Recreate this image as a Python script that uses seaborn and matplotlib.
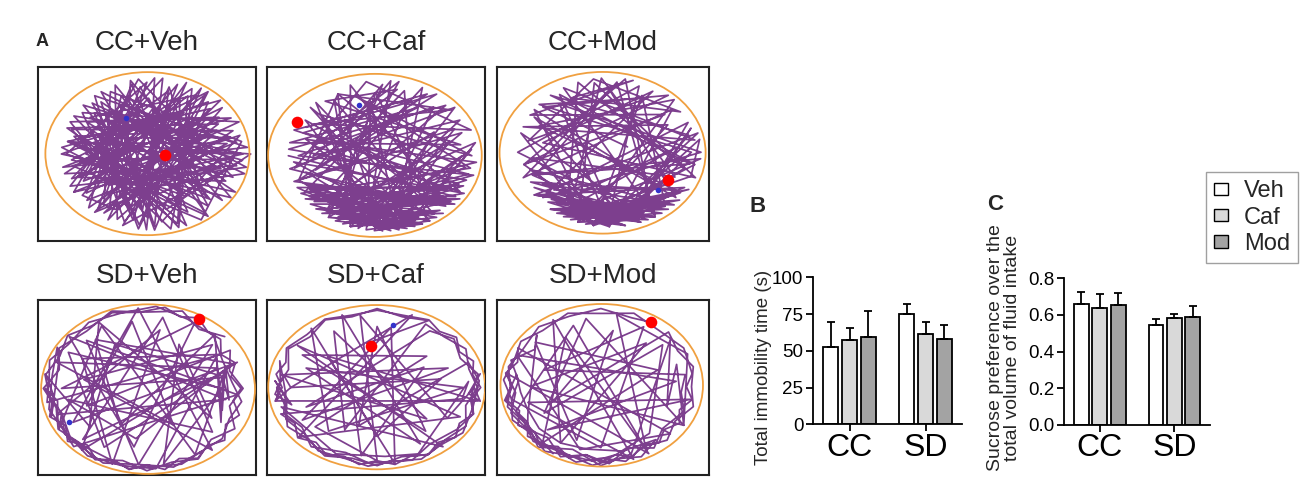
import numpy as np
import pandas as pd
import seaborn as sns
import matplotlib.pyplot as plt
from matplotlib.patches import Ellipse, Patch

# ---- bar chart data (B, C) ----
groups = ["CC", "SD"]
treatments = ["Veh", "Caf", "Mod"]

immobility_veh = [52.8, 75.1]
immobility_caf = [57.1, 61.7]
immobility_mod = [59.4, 58.3]
immobility_err_veh = [16.6, 7.0]
immobility_err_caf = [8.2, 7.7]
immobility_err_mod = [17.7, 9.0]

sucrose_veh = [0.658, 0.544]
sucrose_caf = [0.636, 0.582]
sucrose_mod = [0.655, 0.587]
sucrose_err_veh = [0.066, 0.034]
sucrose_err_caf = [0.077, 0.022]
sucrose_err_mod = [0.063, 0.064]

# ---- open field tracks (A): vertices as (angle deg, fraction of arena radius) ----
track_titles = ["CC+Veh", "CC+Caf", "CC+Mod", "SD+Veh", "SD+Caf", "SD+Mod"]

track_cc_veh = [(200,0.1),(150,0.8),(30,0.9),(190,0.85),(300,0.95),(10,0.9),(120,0.9),(230,0.8),(60,0.95),(260,0.9),
    (160,0.6),(340,0.85),(100,0.95),(210,0.95),(20,0.5),(140,0.95),(280,0.7),(0,0.98),(170,0.9),(320,0.6),(80,0.85),
    (240,0.95),(40,0.7),(190,0.5),(290,0.95),(110,0.6),(350,0.95),(220,0.6),(70,0.95),(250,0.6),(130,0.85),(330,0.95),
    (180,0.95),(50,0.85),(270,0.95),(150,0.4),(15,0.8),(200,0.9),(95,0.7),(310,0.85),(165,0.75),(45,0.95),(235,0.9),
    (5,0.6),(125,0.95),(275,0.5),(355,0.8),(185,0.7),(75,0.6),(255,0.85),(145,0.9),(25,0.95),(215,0.85),(105,0.9),
    (295,0.8),(175,0.95),(60,0.6),(245,0.7),(135,0.7),(345,0.7),(205,0.95),(90,0.95),(265,0.8),(155,0.95),(35,0.8),
    (225,0.95),(115,0.8),(305,0.95),(195,0.6),(65,0.8),(285,0.9),(170,0.8),(10,0.75),(230,0.9),(100,0.85),(315,0.75),
    (140,0.6),(355,0.9),(250,0.95),(55,0.9),(200,0.75),(85,0.5),(260,0.7),(160,0.9),(20,0.85),(240,0.8),
    (215,0.9),(75,0.9),(250,0.75),(130,0.95),(5,0.95),(190,0.95),(50,0.6),(280,0.95),(165,0.85),(25,0.7),(205,0.8),
    (110,0.75),(320,0.9),(145,0.8),(60,0.85),(230,0.95),(0,0.85),(175,0.6),(85,0.95),(265,0.95),(120,0.7),(335,0.8),
    (200,0.85),(40,0.9),(250,0.9),(155,0.7),(300,0.6),(180,0.9),(95,0.9),(225,0.7),(345,0.95),(135,0.9),(275,0.85),
    (15,0.9),(210,0.7),(70,0.75),(290,0.7),(160,0.95),(30,0.75),(240,0.6),(105,0.95),(325,0.95),(185,0.85),(55,0.95),
    (260,0.95),(140,0.8),(10,0.85),(220,0.9),(90,0.6),(305,0.9),(170,0.9),(45,0.8),(235,0.8),(125,0.6),(350,0.85),
    (195,0.95),(65,0.9),(285,0.95),(150,0.95),(20,0.6),(245,0.9),(115,0.95),(315,0.8),(180,0.7),(80,0.8),(270,0.9),
    (135,0.5),(0,0.9),(210,0.95)]

track_cc_caf = [(155,0.85),(60,0.9),(200,0.9),(20,0.85),(250,0.95),(120,0.9),(330,0.9),(170,0.7),(80,0.95),(230,0.85),
    (10,0.95),(290,0.9),(140,0.95),(310,0.8),(190,0.95),(40,0.95),(260,0.85),(100,0.7),(280,0.95),(220,0.95),(320,0.95),
    (210,0.75),(300,0.7),(240,0.9),(350,0.85),(130,0.6),(270,0.9),(30,0.6),(225,0.8),(335,0.85),(160,0.95),(70,0.75),
    (255,0.95),(0,0.8),(285,0.8),(205,0.85),(315,0.9),(110,0.95),(245,0.75),(345,0.95),(180,0.85),(50,0.8),(265,0.95),
    (295,0.95),(215,0.9),(325,0.75),(150,0.5),(90,0.9),(235,0.95),(15,0.7),(275,0.85),(195,0.8),(305,0.9),(125,0.85),
    (250,0.8),(340,0.9),(175,0.95),(45,0.9),(230,0.7),(290,0.85),(5,0.9),(260,0.9),(135,0.95),(300,0.95),(220,0.8),
    (65,0.95),(280,0.75),(185,0.9),(330,0.95),(240,0.85),(95,0.8),(310,0.7),(200,0.95),(25,0.8),(270,0.8),(150,0.9),
    (320,0.85),(210,0.9),(75,0.85),(290,0.9),(165,0.8),(355,0.95),
    (220,0.9),(320,0.9),(230,0.95),(310,0.95),(240,0.9),(300,0.85),(250,0.95),(290,0.9),(260,0.85),(280,0.9),
    (235,0.85),(325,0.95),(215,0.95),(305,0.85),(245,0.95),(335,0.9),(210,0.85),(270,0.95),(200,0.9),(120,0.9),
    (40,0.9),(150,0.8),(20,0.95),(100,0.95),(190,0.9),(60,0.7),(170,0.95),(10,0.8),(130,0.9),(80,0.85),(180,0.7),
    (30,0.9),(250,0.9),(315,0.85),(225,0.95),(295,0.95),(255,0.85),(285,0.95),(240,0.95),(330,0.8),(205,0.95),
    (275,0.95),(230,0.9),(345,0.9),(160,0.85),(55,0.95),(195,0.7),(85,0.95),(260,0.95),(300,0.95),(220,0.85),
    (320,0.8),(245,0.85),(310,0.9),(265,0.9),(140,0.8),(0,0.9),(110,0.8),(350,0.9),(210,0.95),(290,0.95),(235,0.95),
    (280,0.85),(250,0.95),(305,0.95),(215,0.85),(325,0.9),(180,0.95)]

track_cc_mod = [(20,0.2),(140,0.9),(50,0.95),(190,0.9),(80,0.95),(300,0.9),(120,0.95),(10,0.9),(160,0.95),(30,0.7),
    (250,0.95),(100,0.9),(340,0.95),(170,0.7),(60,0.9),(220,0.9),(0,0.95),(130,0.8),(270,0.95),(40,0.85),(200,0.95),
    (90,0.8),(320,0.9),(150,0.9),(280,0.85),(230,0.95),(290,0.95),(210,0.8),(310,0.85),(240,0.9),(330,0.95),(260,0.8),
    (300,0.75),(250,0.85),(280,0.95),(225,0.9),(315,0.95),(195,0.85),(265,0.9),(345,0.8),(110,0.95),(235,0.75),
    (295,0.9),(180,0.95),(70,0.9),(270,0.8),(15,0.95),(215,0.95),(305,0.95),(245,0.95),(285,0.75),(205,0.9),(325,0.85),
    (155,0.8),(45,0.95),(255,0.9),(350,0.9),(125,0.9),(275,0.9),(185,0.8),(335,0.75),(95,0.95),(240,0.8),(5,0.7),
    (230,0.85),(310,0.9),(65,0.8),(260,0.95),(165,0.95),(290,0.8),(25,0.9),(220,0.75),(320,0.7),(145,0.95),(250,0.75),
    (355,0.95),(200,0.8),(85,0.9),(300,0.95),
    (250,0.9),(320,0.95),(230,0.95),(300,0.95),(240,0.85),(310,0.9),(255,0.95),(290,0.9),(220,0.85),(280,0.95),
    (260,0.9),(330,0.9),(215,0.95),(295,0.85),(245,0.9),(340,0.9),(10,0.95),(330,0.6),(20,0.9),(300,0.7),(0,0.85),
    (140,0.95),(60,0.8),(170,0.85),(100,0.95),(35,0.9),(120,0.8),(75,0.95),(150,0.95),(40,0.75),(190,0.9),(270,0.95),
    (235,0.9),(305,0.85),(225,0.85),(285,0.9),(250,0.95),(315,0.8),(240,0.95),(275,0.85),(210,0.9),(295,0.95),
    (265,0.85),(325,0.9),(255,0.8),(310,0.95),(230,0.85),(290,0.95),(200,0.85),(350,0.85),(130,0.95),(15,0.85),
    (280,0.8),(245,0.8),(320,0.85),(260,0.95),(300,0.8),(235,0.95),(270,0.85)]

track_sd_veh = [(40,0.95),(55,0.85),(70,0.97),(90,0.9),(110,0.97),(130,0.88),(150,0.95),(165,0.85),(180,0.97),(195,0.88),
    (210,0.96),(225,0.9),(240,0.97),(255,0.88),(270,0.97),(285,0.9),(300,0.96),(315,0.85),(330,0.95),(345,0.8),(0,0.9),
    (15,0.8),(30,0.9),(200,0.6),(100,0.8),(300,0.5),(160,0.9),(20,0.7),(230,0.95),(120,0.6),(10,0.75),(180,0.8),(60,0.9),
    (260,0.7),(140,0.95),(350,0.75),(200,0.9),(80,0.7),(250,0.95),(150,0.7),(30,0.8),(190,0.95),(175,0.92),(160,0.97),
    (145,0.9),(125,0.95),(105,0.92),(85,0.97),(65,0.9),(45,0.88),(25,0.78),(5,0.8),(350,0.9),(335,0.85),(320,0.92),
    (305,0.9),(290,0.95),(275,0.92),(260,0.96),(245,0.9),(230,0.9),(215,0.94),(200,0.85),(185,0.92),(170,0.97),
    (220,0.7),(120,0.9),(330,0.7),(60,0.6),(280,0.9),(0,0.7),(150,0.85),(240,0.8),(20,0.9),(210,0.8),(95,0.95),
    (310,0.95),(170,0.6),(40,0.8),(265,0.9),(135,0.8),(355,0.85),(225,0.97),(205,0.92),(190,0.85),
    (180,0.95),(190,0.9),(200,0.97),(210,0.88),(220,0.97),(230,0.87),(240,0.96),(250,0.9),(260,0.97),(270,0.9),
    (280,0.97),(290,0.88),(300,0.95),(310,0.88),(320,0.95),(330,0.85),(340,0.92),(350,0.82),(0,0.88),(10,0.8),
    (20,0.88),(30,0.8),(40,0.9),(50,0.88),(60,0.96),(70,0.9),(80,0.97),(95,0.9),(110,0.95),(125,0.9),(140,0.97),
    (155,0.9),(170,0.96),(185,0.88),(200,0.95),(160,0.88),(150,0.97),(170,0.9),(195,0.95),(215,0.92),(235,0.97),
    (255,0.94),(275,0.95),(30,0.75),(340,0.75),(20,0.78),(350,0.78),(10,0.72),(330,0.8),(45,0.9),(240,0.5),(130,0.75),
    (20,0.85),(260,0.6),(190,0.75),(320,0.8),(80,0.85),(225,0.85),(15,0.75),(300,0.9),(120,0.85),(210,0.95),(200,0.85),
    (220,0.93),(245,0.97),(265,0.9),(285,0.96),(305,0.9)]

track_sd_caf = [(100,0.55),(60,0.95),(75,0.9),(90,0.97),(105,0.9),(120,0.96),(135,0.88),(150,0.95),(165,0.85),(180,0.93),
    (195,0.88),(210,0.96),(225,0.9),(240,0.97),(255,0.9),(270,0.96),(285,0.88),(300,0.95),(315,0.9),(330,0.95),
    (345,0.85),(0,0.93),(15,0.88),(30,0.95),(45,0.88),(60,0.9),(240,0.6),(120,0.8),(320,0.6),(170,0.9),(20,0.7),
    (210,0.8),(80,0.75),(280,0.95),(140,0.6),(350,0.95),(190,0.95),(175,0.9),(160,0.96),(185,0.85),(200,0.92),
    (215,0.85),(230,0.95),(250,0.85),(265,0.93),(290,0.95),(305,0.85),(325,0.9),(340,0.95),(355,0.88),(10,0.95),
    (25,0.85),(40,0.93),(55,0.85),(200,0.7),(30,0.5),(260,0.85),(110,0.95),(300,0.8),(160,0.7),(0,0.8),(230,0.7),
    (130,0.95),(270,0.6),(10,0.6),(180,0.8),(70,0.95),(220,0.95),(335,0.85),(145,0.9),(310,0.95),(195,0.92),(245,0.9),
    (275,0.85),(295,0.9),(5,0.85),(350,0.8),
    (200,0.95),(210,0.88),(220,0.96),(230,0.88),(240,0.95),(250,0.9),(260,0.96),(270,0.9),(280,0.96),(290,0.9),
    (300,0.95),(310,0.88),(320,0.95),(330,0.88),(340,0.95),(350,0.88),(0,0.96),(10,0.9),(20,0.95),(30,0.88),(40,0.96),
    (50,0.9),(60,0.96),(75,0.92),(90,0.95),(105,0.92),(120,0.97),(135,0.92),(150,0.97),(160,0.9),(170,0.95),(180,0.88),
    (190,0.96),(180,0.8),(170,0.88),(185,0.95),(195,0.82),(175,0.95),(190,0.85),(205,0.93),(220,0.88),(235,0.95),
    (250,0.92),(265,0.97),(280,0.92),(295,0.97),(310,0.92),(325,0.97),(345,0.92),(5,0.95),(20,0.9),(250,0.5),(90,0.75),
    (310,0.7),(150,0.8),(40,0.6),(220,0.75),(270,0.9),(100,0.9),(330,0.75),(0,0.9),(350,0.97),(355,0.85),(10,0.97)]

track_sd_mod = [(55,0.95),(70,0.9),(90,0.96),(110,0.92),(130,0.96),(150,0.9),(165,0.95),(180,0.9),(195,0.96),(210,0.88),
    (225,0.95),(240,0.9),(255,0.96),(270,0.88),(285,0.95),(300,0.85),(315,0.93),(330,0.85),(345,0.95),(0,0.9),(15,0.95),
    (30,0.88),(45,0.95),(200,0.5),(80,0.7),(250,0.7),(140,0.85),(20,0.6),(230,0.9),(120,0.7),(300,0.95),(170,0.95),
    (185,0.85),(200,0.95),(215,0.9),(230,0.82),(245,0.95),(260,0.85),(275,0.95),(290,0.8),(305,0.92),(320,0.8),
    (340,0.88),(355,0.8),(10,0.85),(160,0.6),(60,0.85),(270,0.75),(190,0.9),(175,0.82),(160,0.95),(145,0.8),(135,0.9),
    (205,0.8),(220,0.95),(250,0.9),(265,0.92),(280,0.85),(310,0.75),(40,0.8),(210,0.65),(100,0.85),(330,0.95),(180,0.7),
    (50,0.7),(240,0.8),(120,0.95),(290,0.95),(195,0.75),(350,0.9),(225,0.75),(5,0.75),(155,0.92),(255,0.8),(320,0.9),
    (150,0.95),(160,0.88),(170,0.96),(180,0.88),(190,0.95),(200,0.86),(210,0.95),(220,0.86),(230,0.94),(240,0.85),
    (250,0.93),(260,0.85),(270,0.93),(280,0.85),(290,0.92),(300,0.82),(310,0.9),(320,0.82),(330,0.9),(340,0.83),
    (350,0.92),(0,0.85),(10,0.92),(30,0.95),(50,0.9),(70,0.96),(90,0.9),(110,0.96),(130,0.9),(145,0.97),(160,0.92),
    (175,0.97),(190,0.9),(205,0.97),(220,0.9),(235,0.97),(250,0.9),(265,0.97),(280,0.9),(295,0.95),(310,0.85),
    (285,0.82),(260,0.78),(240,0.8),(220,0.8),(200,0.78),(185,0.8),(170,0.85),(190,0.97),(210,0.85),(230,0.97),
    (250,0.82),(270,0.97),(290,0.88),(40,0.9),(340,0.7),(20,0.8),(330,0.95),(25,0.95),(80,0.9),(300,0.9),(110,0.8),
    (200,0.9),(240,0.95)]

tracks = [track_cc_veh, track_cc_caf, track_cc_mod, track_sd_veh, track_sd_caf, track_sd_mod]

# start (red) and end (blue) points, axes fraction
start_points = [(0.583, 0.492), (0.139, 0.684), (0.805, 0.353), (0.739, 0.891), (0.479, 0.739), (0.728, 0.876)]
end_points = [(0.405, 0.707), (0.423, 0.78), (0.758, 0.291), (0.144, 0.305), (0.576, 0.857), None]

# ---- geometry / style ----
arena_rings = [(0.502, 0.502, 0.936, 0.937), (0.495, 0.492, 0.98, 0.937), (0.498, 0.507, 0.972, 0.929),
               (0.505, 0.491, 0.981, 0.969), (0.503, 0.502, 0.995, 0.939), (0.494, 0.513, 0.955, 0.929)]
track_zone = [(0.535, 0.50, 0.45, 0.46), (0.53, 0.49, 0.455, 0.455), (0.53, 0.51, 0.455, 0.45),
              (0.50, 0.495, 0.49, 0.485), (0.505, 0.50, 0.495, 0.465), (0.49, 0.505, 0.475, 0.465)]
track_axes = [[0.0292, 0.500, 0.1677, 0.361], [0.2054, 0.500, 0.1677, 0.361], [0.3823, 0.500, 0.1631, 0.361],
              [0.0292, 0.0145, 0.1677, 0.363], [0.2054, 0.0145, 0.1677, 0.363], [0.3823, 0.0145, 0.1631, 0.363]]

purple = "#7d3f8e"
orange = "#f0a040"
bar_colors = {"Veh": "#ffffff", "Caf": "#d9d9d9", "Mod": "#a3a3a3"}

sns.set_style("ticks")
plt.rcParams["font.family"] = ["Liberation Sans", "DejaVu Sans"]

fig = plt.figure(figsize=(13, 4.82), dpi=100)

for i in range(6):
    ax = fig.add_axes(track_axes[i])
    cx, cy, rx, ry = track_zone[i]
    ang = np.radians([p[0] for p in tracks[i]])
    rad = np.array([p[1] for p in tracks[i]])
    xs = cx + rx * rad * np.cos(ang)
    ys = cy + ry * rad * np.sin(ang)
    sns.lineplot(x=xs, y=ys, sort=False, estimator=None, color=purple, linewidth=1.25, ax=ax)
    ex, ey, ew, eh = arena_rings[i]
    ax.add_patch(Ellipse((ex, ey), ew, eh, fill=False, edgecolor=orange, linewidth=1.3, zorder=3))
    ax.scatter([start_points[i][0]], [start_points[i][1]], s=70, color="#ff0000", zorder=5, linewidths=0)
    if end_points[i] is not None:
        ax.scatter([end_points[i][0]], [end_points[i][1]], s=16, color="#3333cc", zorder=5, linewidths=0)
    ax.set_xlim(0, 1)
    ax.set_ylim(0, 1)
    ax.set_xticks([])
    ax.set_yticks([])
    ax.set_xlabel("")
    ax.set_ylabel("")
    for s in ax.spines.values():
        s.set_visible(True)
        s.set_linewidth(1.5)
        s.set_color("#222222")
    ax.set_title(track_titles[i], fontsize=20, pad=12)

fig.text(0.027, 1 - 42 / 482, "A", fontsize=13, fontweight="bold", va="center", ha="left")


def bar_panel(ax, vals, errs, ymax, yticks, ylabels):
    df = pd.DataFrame({
        "group": groups * 3,
        "treatment": [t for t in treatments for _ in groups],
        "value": vals[0] + vals[1] + vals[2],
    })
    sns.barplot(data=df, x="group", y="value", hue="treatment", order=groups, hue_order=treatments,
                palette=bar_colors, edgecolor="black", linewidth=1.3, width=0.74, gap=0.2,
                errorbar=None, legend=False, ax=ax)
    for cont, err in zip(ax.containers, errs):
        bx = [p.get_x() + p.get_width() / 2 for p in cont]
        bh = [p.get_height() for p in cont]
        ax.errorbar(bx, bh, yerr=[np.zeros(len(err)), err], fmt="none", ecolor="black",
                    elinewidth=1.3, capsize=3, capthick=1.3, zorder=3)
    ax.set_xlim(-0.48, 1.48)
    ax.set_ylim(0, ymax)
    ax.set_yticks(yticks)
    ax.set_yticklabels(ylabels)
    ax.set_xlabel("")
    ax.set_ylabel("")
    sns.despine(ax=ax)
    for s in ["left", "bottom"]:
        ax.spines[s].set_linewidth(1.3)
        ax.spines[s].set_color("black")
    ax.tick_params(axis="y", labelsize=13.5, width=1.3, length=5, pad=2, colors="black")
    ax.tick_params(axis="x", labelsize=23, width=1.3, length=5, pad=1, colors="black")


axB = fig.add_axes([0.6254, 0.1197, 0.1146, 0.3051])
bar_panel(axB, [immobility_veh, immobility_caf, immobility_mod],
          [immobility_err_veh, immobility_err_caf, immobility_err_mod],
          100, [0, 25, 50, 75, 100], ["0", "25", "50", "75", "100"])

axC = fig.add_axes([0.8185, 0.1183, 0.1123, 0.3044])
bar_panel(axC, [sucrose_veh, sucrose_caf, sucrose_mod],
          [sucrose_err_veh, sucrose_err_caf, sucrose_err_mod],
          0.8, [0, 0.2, 0.4, 0.6, 0.8], ["0.0", "0.2", "0.4", "0.6", "0.8"])

fig.text(763 / 1300, 1 - 367 / 482, "Total immobility time (s)", rotation=90, fontsize=13.5,
         ha="center", va="center")
fig.text(1004 / 1300, 1 - 348 / 482, "Sucrose preference over the\ntotal volume of fluid intake",
         rotation=90, fontsize=14, ha="center", va="center", multialignment="center", linespacing=1.0)

fig.text(758 / 1300, 1 - 206 / 482, "B", fontsize=16, fontweight="bold", ha="center", va="center")
fig.text(995 / 1300, 1 - 204 / 482, "C", fontsize=16, fontweight="bold", ha="center", va="center")

handles = [Patch(facecolor=bar_colors[t], edgecolor="black", linewidth=1.0) for t in treatments]
leg = fig.legend(handles, treatments, loc="upper right", bbox_to_anchor=(0.9985, 1 - 172 / 482),
                 fontsize=17, frameon=True, fancybox=False, edgecolor="#888888",
                 handlelength=0.6, handleheight=0.45, handletextpad=0.65, borderpad=0.35,
                 labelspacing=0.18, borderaxespad=0)
leg.get_frame().set_linewidth(1.0)

fig.savefig("out.png", dpi=100)
